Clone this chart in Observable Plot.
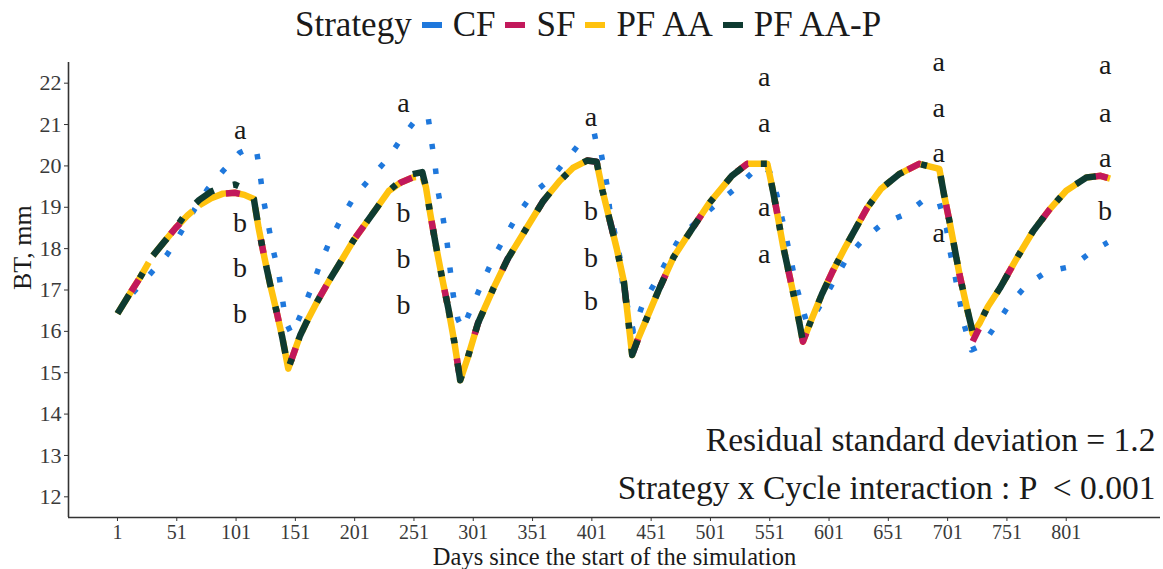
<!DOCTYPE html>
<html><head><meta charset="utf-8">
<script src="https://cdn.jsdelivr.net/npm/d3@7"></script>
<script src="https://cdn.jsdelivr.net/npm/@observablehq/plot@0.6"></script>
<style>
body{margin:0;background:#fff;font-family:"Liberation Serif","Times New Roman",serif;}
#legend{position:relative;height:46px;width:1163px;}
.leg{position:absolute;top:0;left:295px;height:50px;display:flex;align-items:center;font-size:35px;color:#1a1a1a;white-space:nowrap}
.key{display:inline-block;width:20px;height:6px;margin:0 11px 0 10px}
</style></head><body>
<div id="legend"><div class="leg" id="leg"><span>Strategy</span></div></div>
<div id="chart"></div>
<script>
// ---- data ----
const strategies = ["CF", "SF", "PF AA", "PF AA-P"];
const colors = ["#1f78dc", "#c2185b", "#ffc20e", "#0e3b31"];
const legendTitle = "Strategy";

const xTicks = [1, 51, 101, 151, 201, 251, 301, 351, 401, 451, 501, 551, 601, 651, 701, 751, 801];
const yTicks = [12, 13, 14, 15, 16, 17, 18, 19, 20, 21, 22];
const xLabel = "Days since the start of the simulation";
const yLabel = "BT, mm";
const note1 = "Residual standard deviation = 1.2";
const note2 = "Strategy x Cycle interaction : P  < 0.001";

// CF (conventional)
const cfDay = [1,15,29,43,54,66,77,90,104,112,118,121,124,128,132,137,140,143,148,157,165,172,180,190,201,216,229,241,254,263,266,269,271.5,275.5,279,281.5,284,288,292,301,309,318,328,339,351,367,381,394,406,410,414,416,420.5,425,427,431.5,436,444,454,464,475,490,506,522,537,545,551,557,564,570,574,582,586,600,616,630,646,666,682,694,700,703,707,711,715,721,730,742,753,768,785,806,823,836];
const cfBT = [16.45,16.96,17.4,17.86,18.37,18.95,19.44,19.88,20.32,20.42,20.42,19.85,19.2,18.6,18.0,17.4,16.8,16.23,15.92,16.5,17.08,17.64,18.18,18.74,19.27,19.76,20.18,20.69,21.17,21.17,20.56,19.96,19.35,18.74,18.13,17.5,16.9,16.3,16.06,16.67,17.2,17.77,18.3,18.84,19.32,19.71,20.2,20.66,20.73,20.13,19.5,18.96,18.35,17.74,17.13,16.55,16.0,16.67,17.16,17.7,18.26,18.67,19.08,19.45,19.86,20.0,19.85,19.3,18.4,17.57,17.04,16.23,16.25,16.95,17.77,18.23,18.6,18.84,19.2,19.1,18.5,17.94,17.38,16.77,16.16,15.55,15.67,16.16,16.65,17.13,17.45,17.57,17.94,18.15];

// SF, PF AA, PF AA-P share sampling days
const mainDay = [1,10,20,30,40,50,60,70,80,90,100,108,116,120,125,130,135,140,145,150,155,160,170,180,190,200,210,220,230,240,250,258,261,265,270,275,280,285,290,296,305,318,330,346,360,374,385,397,405,410,416,422,428,431,435,440,450,458,470,486,500,519,532,549,553,557,562,568,574,579,585,595,604,615,633,645,660,677,694,698,703,711,717,722,728,735,745,760,773,787,801,818,830,838];
const sfBT = [16.43,16.85,17.3,17.8,18.15,18.5,18.8,19.05,19.22,19.33,19.35,19.3,19.2,18.5,17.77,17.1,16.5,15.85,15.1,15.5,15.9,16.2,16.75,17.25,17.72,18.2,18.6,19.0,19.4,19.6,19.72,19.75,19.5,18.8,18.0,17.25,16.55,15.75,14.82,15.33,16.2,17.04,17.75,18.5,19.15,19.64,19.95,20.13,20.1,19.4,18.7,18.0,17.2,16.45,15.43,15.82,16.5,17.04,17.8,18.5,19.1,19.76,20.05,20.05,19.5,18.9,18.1,17.3,16.5,15.75,16.2,16.9,17.45,18.05,18.98,19.45,19.8,20.05,19.93,19.3,18.6,17.38,16.6,15.75,16.1,16.6,17.04,17.8,18.42,18.95,19.4,19.72,19.76,19.69];
const pfaaBT = [16.43,16.85,17.3,17.8,18.15,18.5,18.8,19.05,19.22,19.33,19.35,19.3,19.2,18.5,17.77,17.1,16.5,15.85,15.1,15.5,15.9,16.2,16.75,17.25,17.72,18.2,18.6,19.0,19.4,19.6,19.72,19.75,19.5,18.8,18.0,17.25,16.55,15.75,14.82,15.33,16.2,17.04,17.75,18.5,19.15,19.64,19.95,20.13,20.1,19.4,18.7,18.0,17.2,16.45,15.43,15.82,16.5,17.04,17.8,18.5,19.1,19.76,20.05,20.05,19.5,18.9,18.1,17.3,16.5,15.75,16.2,16.9,17.45,18.05,18.98,19.45,19.8,20.05,19.93,19.3,18.6,17.38,16.6,15.95,16.2,16.6,17.04,17.8,18.42,18.95,19.4,19.72,19.76,19.69];
const pfaapBT = [16.43,16.85,17.3,17.8,18.15,18.5,18.9,19.18,19.38,19.5,19.55,19.45,19.2,18.5,17.77,17.1,16.5,15.85,15.1,15.5,15.9,16.2,16.75,17.25,17.72,18.2,18.6,19.0,19.4,19.65,19.8,19.85,19.5,18.8,18.0,17.25,16.55,15.75,14.82,15.33,16.2,17.04,17.75,18.5,19.15,19.64,19.95,20.13,20.1,19.4,18.7,18.0,17.2,16.45,15.43,15.82,16.5,17.04,17.8,18.5,19.1,19.76,20.05,20.05,19.5,18.9,18.1,17.3,16.5,15.75,16.2,16.9,17.45,18.05,18.98,19.45,19.8,20.05,19.93,19.3,18.6,17.38,16.6,16.0,16.2,16.6,17.04,17.8,18.42,18.95,19.4,19.72,19.76,19.69];

// significance letters
const letterDay = [104.4,104.4,104.4,104.4, 242.2,242.2,242.2,242.2, 400.2,400.2,400.2,400.2, 546.4,546.4,546.4,546.4, 693.5,693.5,693.5,693.5, 833.8,833.8,833.8,833.8];
const letterBT  = [20.86,18.63,17.54,16.43, 21.53,18.87,17.76,16.63, 21.17,18.92,17.78,16.74, 22.16,21.03,19.0,17.88, 22.5,21.41,20.3,18.37, 22.43,21.29,20.2,18.92];
const letterText = ["a","b","b","b", "a","b","b","b", "a","b","b","b", "a","a","a","a", "a","a","a","a", "a","a","a","b"];

// ---- build ----
const zip = (xs, ys) => xs.map((d, i) => ({day: d, bt: ys[i]}));
const cfData = zip(cfDay, cfBT);
const sfData = zip(mainDay, sfBT);
const pfaaData = zip(mainDay, pfaaBT);
const pfaapData = zip(mainDay, pfaapBT);
const letters = letterDay.map((d, i) => ({day: d, bt: letterBT[i], t: letterText[i]}));

const leg = document.getElementById("leg");
leg.firstChild.textContent = legendTitle;
strategies.forEach((s, i) => {
  const k = document.createElement("span"); k.className = "key"; k.style.background = colors[i];
  const l = document.createElement("span"); l.textContent = s;
  leg.appendChild(k); leg.appendChild(l);
});

const serif = '"Liberation Serif","Times New Roman",serif';
const xDom = [-40.3, 880.5], yDom = [11.5, 22.5];
const chart = Plot.plot({
  width: 1163, height: 523,
  marginLeft: 68, marginRight: 3, marginTop: 16, marginBottom: 52,
  style: {fontFamily: serif, fontSize: "20px", background: "#fff", color: "#333", overflow: "visible"},
  x: {domain: xDom},
  y: {domain: yDom},
  marks: [
    Plot.axisX({ticks: xTicks, tickSize: 4, tickPadding: 3, fontSize: 20, label: null, fill: "#3a3a3a"}),
    Plot.axisY({ticks: yTicks, tickSize: 4, tickPadding: 3, fontSize: 22, label: null, fill: "#3a3a3a"}),
    Plot.ruleX([xDom[0]], {stroke: "#333", strokeWidth: 1.6}),
    Plot.ruleY([yDom[0]], {stroke: "#333", strokeWidth: 1.6}),
    Plot.line(cfData, {x: "day", y: "bt", stroke: colors[0], strokeWidth: 5.5, strokeDasharray: "5.5 19.5", strokeLinecap: "butt"}),
    Plot.line(pfaaData, {x: "day", y: "bt", stroke: colors[2], strokeWidth: 6.5, strokeDasharray: "60 8", strokeLinecap: "butt"}),
    Plot.line(sfData, {x: "day", y: "bt", stroke: colors[1], strokeWidth: 6.5, strokeDasharray: "14 56", strokeDashoffset: -26, strokeLinecap: "butt"}),
    Plot.line(pfaapData, {x: "day", y: "bt", stroke: colors[3], strokeWidth: 6.5, strokeDasharray: "22 20 6 20", strokeLinecap: "butt"}),
    Plot.text(letters, {x: "day", y: "bt", text: "t", fontSize: 28, fill: "#1a1a1a"}),
    Plot.text([note1], {text: d => d, frameAnchor: "bottom-right", dx: -5, dy: -67, textAnchor: "end", fontSize: 33.5, fill: "#1a1a1a"}),
    Plot.text([note2], {text: d => d, frameAnchor: "bottom-right", dx: -5, dy: -19, textAnchor: "end", fontSize: 33.5, fill: "#1a1a1a"}),
    Plot.text([xLabel], {text: d => d, frameAnchor: "bottom", dy: 47, fontSize: 24.5, fill: "#1a1a1a"}),
    Plot.text([yLabel], {text: d => d, frameAnchor: "left", dx: -46, rotate: -90, fontSize: 26, fill: "#1a1a1a"})
  ]
});
document.getElementById("chart").appendChild(chart);
</script>
</body></html>
